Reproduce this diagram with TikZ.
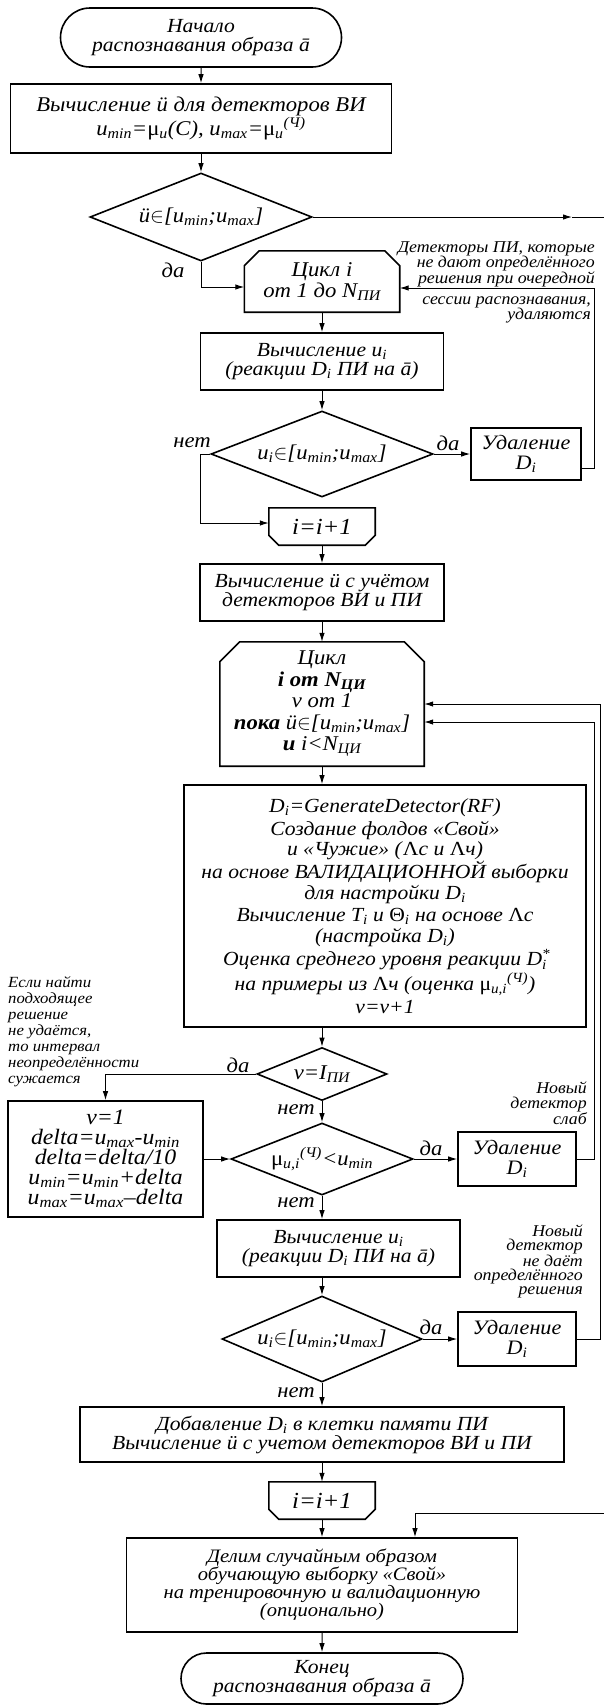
\documentclass[tikz,border=0pt]{standalone}
\usepackage{fontspec}
\setmainfont{Liberation Serif}[FakeStretch=1.08]
\usetikzlibrary{arrows.meta,calc,shapes.geometric,shapes.misc}

\newcommand{\umin}{\textit{u}\textsubscript{\textit{min}}}
\newcommand{\umax}{\textit{u}\textsubscript{\textit{max}}}
\newcommand{\ui}{\textit{u}\textsubscript{\textit{i}}}
\newcommand{\Di}{\textit{D}\textsubscript{\textit{i}}}
\newcommand{\inum}{[\umin;\umax]}
\newcommand{\much}{\textup{μ}\textsubscript{\textit{u,i}}\textsuperscript{\textit{(Ч)}}}

\begin{document}
\begin{tikzpicture}[x=1pt,y=-1pt,>={Latex[length=9pt,width=5.5pt]},
  every node/.style={font=\fontsize{20}{19}\selectfont\itshape,align=center,inner sep=0pt},
  blk/.style={draw,line width=1.6pt,rectangle},
  term/.style={draw,line width=1.6pt,rounded rectangle},
  cond/.style={draw,line width=1.6pt,diamond,aspect=2.5,font=\fontsize{21}{20}\selectfont\itshape},
  cuttop/.style={rectangle,append after command={\pgfextra{\draw[line width=1.6pt]
    ([yshift=-#1]\tikzlastnode.north west) -- ([xshift=#1]\tikzlastnode.north west)
    -- ([xshift=-#1]\tikzlastnode.north east) -- ([yshift=-#1]\tikzlastnode.north east)
    -- (\tikzlastnode.south east) -- (\tikzlastnode.south west) -- cycle;}}},
  cutbot/.style={rectangle,font=\fontsize{23}{22}\selectfont\itshape,append after command={\pgfextra{\draw[line width=1.6pt]
    ([yshift=#1]\tikzlastnode.south west) -- ([xshift=#1]\tikzlastnode.south west)
    -- ([xshift=-#1]\tikzlastnode.south east) -- ([yshift=#1]\tikzlastnode.south east)
    -- (\tikzlastnode.north east) -- (\tikzlastnode.north west) -- cycle;}}},
  note/.style={font=\fontsize{16.5}{15}\selectfont\itshape},
  yesno/.style={font=\fontsize{21}{21}\selectfont\itshape},
  link/.style={line width=1pt,->}]
\fill[white] (0,0) rectangle (603,1706);
\useasboundingbox (0,0) rectangle (603,1706);

\node[term,minimum width=281,minimum height=59] (start) at (201,37.5) {Начало\\распознавания образа ā};
\node[blk,minimum width=381,minimum height=69,font=\fontsize{21}{19.6}\selectfont\itshape] (calc1) at (201,118.5) {Вычисление ӥ для детекторов ВИ\\\umin=\textup{μ}\textsubscript{\textit{u}}(С), \umax=\textup{μ}\textsubscript{\textit{u}}\textsuperscript{\textit{(Ч)}}};
\node[cond,minimum width=222,minimum height=88] (dia1) at (201,217) {ӥ$\in$\inum};
\node[cuttop=15pt,minimum width=155,minimum height=61,font=\fontsize{21}{21}\selectfont\itshape] (cyc1) at (322,281.5) {Цикл \textit{i}\\от 1 до \textit{N}\textsubscript{ПИ}};
\node[blk,minimum width=243,minimum height=57] (calc2) at (322,361.5) {Вычисление \ui\\(реакции \Di\ ПИ на ā)};
\node[cond,minimum width=222,minimum height=86] (dia2) at (322,454) {\ui$\in$\inum};
\node[blk,minimum width=110,minimum height=52,font=\fontsize{20.5}{20}\selectfont\itshape] (del1) at (526,454) {Удаление\\\Di};
\node[cutbot=10pt,minimum width=106,minimum height=37] (inc1) at (322,526.5) {i=i+1};
\node[blk,minimum width=244,minimum height=57] (calc3) at (322,592.5) {Вычисление ӥ с учётом\\детекторов ВИ и ПИ};
\node[cuttop=20pt,minimum width=204,minimum height=124,font=\fontsize{21}{21.5}\selectfont\itshape] (cyc2) at (322,704) {Цикл\\\textbf{i от N\textsubscript{ЦИ}}\\v от 1\\\textbf{пока} ӥ$\in$\inum\\\textbf{и} i<N\textsubscript{ЦИ}};
\node[blk,minimum width=402,minimum height=242,font=\fontsize{20}{20.5}\selectfont\itshape] (gen) at (385,906) {\Di=GenerateDetector(RF)\\[2pt]
  Создание фолдов «Свой»\\и «Чужие» (\textup{Λ}с и \textup{Λ}ч)\\на основе ВАЛИДАЦИОННОЙ выборки\\для настройки \Di\\[2pt]
  Вычисление \textit{T}\textsubscript{\textit{i}} и \textup{Θ}\textsubscript{\textit{i}} на основе \textup{Λ}с\\(настройка \Di)\\[2pt]
  Оценка среднего уровня реакции \textit{D}\rlap{\textsuperscript{*}}\textsubscript{\textit{i}}\\[2pt]на примеры из \textup{Λ}ч (оценка \much)\\[2pt]
  v=v+1};
\node[cond,minimum width=130,minimum height=53] (dia3) at (322,1074) {v=I\textsubscript{ПИ}};
\node[blk,minimum width=195,minimum height=116,font=\fontsize{22}{20}\selectfont\itshape] (shrink) at (105.5,1159) {v=1\\delta=\umax-\umin\\delta=delta/10\\\umin=\umin+delta\\\umax=\umax–delta};
\node[cond,minimum width=182,minimum height=72] (dia4) at (322,1159) {\much<\umin};
\node[blk,minimum width=118,minimum height=54,font=\fontsize{20.5}{20}\selectfont\itshape] (del2) at (517,1159) {Удаление\\\Di};
\node[blk,minimum width=243,minimum height=57] (calc5) at (338.5,1248.5) {Вычисление \ui\\(реакции \Di\ ПИ на ā)};
\node[cond,minimum width=200,minimum height=86] (dia5) at (322,1339) {\ui$\in$\inum};
\node[blk,minimum width=118,minimum height=54,font=\fontsize{20.5}{20}\selectfont\itshape] (del3) at (517,1339) {Удаление\\\Di};
\node[blk,minimum width=484,minimum height=55] (add) at (322,1434.5) {Добавление \Di\ в клетки памяти ПИ\\Вычисление ӥ с учетом детекторов ВИ и ПИ};
\node[cutbot=10pt,minimum width=106,minimum height=37] (inc2) at (322,1500.5) {i=i+1};
\node[blk,minimum width=391,minimum height=94,font=\fontsize{19}{18}\selectfont\itshape] (split) at (322,1585) {Делим случайным образом\\обучающую выборку «Свой»\\на тренировочную и валидационную\\(опционально)};
\node[term,minimum width=282,minimum height=51] (stop) at (322,1678.5) {Конец\\распознавания образа ā};

\node[yesno] (yes1) at (173,270) {да};
\node[yesno] (no2) at (192,443) {нет};
\node[yesno] (yes2) at (448,443) {да};
\node[yesno] (yes3) at (238,1065) {да};
\node[yesno] (no3) at (296,1110) {нет};
\node[yesno] (yes4) at (431,1148) {да};
\node[yesno] (no4) at (296,1203) {нет};
\node[yesno] (yes5) at (431,1327) {да};
\node[yesno] (no5) at (296,1393) {нет};

\node[note,anchor=north east,align=right] (why1) at (595,241) {Детекторы ПИ, которые\\не дают определённого\\решения при очередной};
\node[note,anchor=north east,align=right] (why2) at (591,297) {сессии распознавания,\\удаляются};
\node[note,anchor=south east,align=right] (weak) at (587,1125) {Новый\\детектор\\слаб};
\node[note,anchor=south east,align=right,font=\fontsize{16.5}{14}\selectfont\itshape] (nodec) at (583,1298) {Новый\\детектор\\не даёт\\определённого\\решения};
\node[note,anchor=north west,align=left,font=\fontsize{15.5}{16}\selectfont\itshape] (narrow) at (8,976) {Если найти\\подходящее\\решение\\не удаётся,\\то интервал\\неопределённости\\сужается};

\coordinate (skipA) at (572,217);
\coordinate (skipB) at (606,1513);
\draw[link] (start) -- (calc1);
\draw[link] (calc1) -- (dia1);
\draw[link] (dia1.east) -- (skipA);
\draw[link] (skipA) -| (skipB) -| ([xshift=93pt]split.north);
\draw[link] (dia1.south) |- ([yshift=-5.5pt]cyc1.west);
\draw[link] (cyc1) -- (calc2);
\draw[link] (calc2) -- (dia2);
\draw[link] (dia2) -- (del1);
\draw[link] ([yshift=-14pt]del1.east) -- ++(13,0) |- ([yshift=-6.5pt]cyc1.east);
\draw[link] (dia2.west) -- ++(-10,0) |- ([yshift=3.5pt]inc1.west);
\draw[link] (inc1) -- (calc3);
\draw[link] (calc3) -- (cyc2);
\draw[link] (cyc2.south) -- (cyc2.south |- gen.north);
\draw[link] (gen.south -| dia3.north) -- (dia3.north);
\draw[link] (dia3.west) -| (shrink.north);
\draw[link] (dia3) -- (dia4);
\draw[link] (shrink) -- (dia4);
\draw[link] (dia4) -- (del2);
\draw[link] (del2.east) -- ++(18,0) |- ([yshift=-18pt]cyc2.east);
\draw[link] (dia4.south) -- (dia4.south |- calc5.north);
\draw[link] (calc5.south -| dia5.north) -- (dia5.north);
\draw[link] (dia5) -- (del3);
\draw[link] (del3.east) -- ++(24,0) |- (cyc2.east);
\draw[link] (dia5) -- (add);
\draw[link] (add) -- (inc2);
\draw[link] (inc2) -- (split);
\draw[link] (split) -- (stop);
\end{tikzpicture}
\end{document}
